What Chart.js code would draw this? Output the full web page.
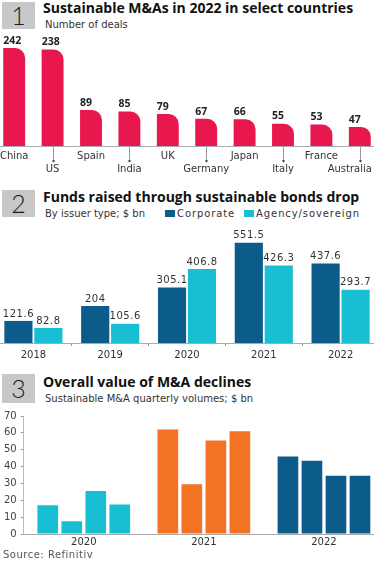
<!DOCTYPE html>
<html>
<head>
<meta charset="utf-8">
<script src="https://cdn.jsdelivr.net/npm/chart.js@4.4.1/dist/chart.umd.min.js"></script>
<style>
  html, body { margin: 0; padding: 0; background: #fff; }
  body { width: 374px; height: 561px; position: relative; overflow: hidden; font-family: "DejaVu Sans", sans-serif; color: #222; }
  .num { position: absolute; left: 2px; width: 33px; height: 27px; background: #c8c8ca; font: 300 25px/27px Lato, sans-serif; text-align: center; color: #1a1a1a; }
  .title { position: absolute; left: 43px; font-family: "Open Sans", sans-serif; font-weight: 700; font-size: 14px; line-height: 16px; color: #111; white-space: nowrap; }
  .sub { position: absolute; left: 45px; font-size: 10px; line-height: 12px; color: #333; white-space: nowrap; }
  .legend { position: absolute; top: 208px; left: 165px; font-size: 10px; line-height: 12px; letter-spacing: 0.9px; color: #333; white-space: nowrap; }
  .legend span { display: inline-block; width: 10px; height: 7px; margin-right: 2px; }
  .legend b { font-weight: 400; margin-right: 9px; }
  canvas { position: absolute; }
  .source { position: absolute; left: 3px; top: 549px; font-size: 10px; line-height: 12px; letter-spacing: 0.5px; color: #555; }
</style>
</head>
<body>
<div class="num" style="top:2px">1</div>
<div class="title" style="top:0px">Sustainable M&amp;As in 2022 in select countries</div>
<div class="sub" style="top:19px">Number of deals</div>
<canvas id="c1" width="384" height="148" style="left:-5px;top:32px"></canvas>

<div class="num" style="top:190px">2</div>
<div class="title" style="top:189px">Funds raised through sustainable bonds drop</div>
<div class="sub" style="top:208px">By issuer type; $ bn</div>
<div class="legend"><span style="background:#0b5b8b"></span><b>Corporate</b><span style="background:#18bed2"></span><b>Agency/sovereign</b></div>
<canvas id="c2" width="384" height="142" style="left:-5px;top:222px"></canvas>

<div class="num" style="top:374px;height:29px;line-height:29px">3</div>
<div class="title" style="top:374px">Overall value of M&amp;A declines</div>
<div class="sub" style="top:393px">Sustainable M&amp;A quarterly volumes; $ bn</div>
<canvas id="c3" width="384" height="144" style="left:0px;top:406px"></canvas>
<div class="source">Source: Refinitiv</div>

<script>
// chart 1: deals by country
const countries = ["China", "US", "Spain", "India", "UK", "Germany", "Japan", "Italy", "France", "Australia"];
const deals = [242, 238, 89, 85, 79, 67, 66, 55, 53, 47];

// chart 2: bonds by issuer type
const bondYears = ["2018", "2019", "2020", "2021", "2022"];
const corporate = [121.6, 204, 305.1, 551.5, 437.6];
const agency = [82.8, 105.6, 406.8, 426.3, 293.7];

// chart 3: quarterly M&A volumes
const maYears = ["2020", "2021", "2022"];
const q1 = [17, 62, 46];
const q2 = [7.5, 29.5, 43.5];
const q3 = [25.5, 55.5, 34.5];
const q4 = [17.5, 61, 34.5];
const maTicks = [0, 10, 20, 30, 40, 50, 60, 70];

const red = "#e8184f";
const navy = "#0b5b8b";
const cyan = "#18bed2";
const orange = "#f37325";

Chart.defaults.font.family = '"DejaVu Sans", sans-serif';
Chart.defaults.color = "#333";

const valueLabels = {
    id: "valueLabels",
    afterDatasetsDraw(chart, args, opts) {
        const ctx = chart.ctx;
        ctx.save();
        ctx.font = opts.font;
        ctx.fillStyle = opts.color;
        ctx.textBaseline = "bottom";
        ctx.textAlign = opts.align;
        if (opts.spacing) ctx.letterSpacing = opts.spacing;
        chart.data.datasets.forEach((ds, di) => {
            chart.getDatasetMeta(di).data.forEach((bar, i) => {
                const x = opts.align === "left" ? bar.x - bar.width / 2 : bar.x;
                ctx.fillText(String(ds.data[i]), x, bar.y - 2);
            });
        });
        ctx.restore();
    },
};

// leader ticks down to the staggered (lower row) labels
const leaderTicks = {
    id: "leaderTicks",
    afterDraw(chart) {
        const x = chart.scales.x;
        const ctx = chart.ctx;
        ctx.save();
        ctx.strokeStyle = "#999";
        ctx.fillStyle = "#444";
        ctx.lineWidth = 1;
        x.ticks.forEach((t, i) => {
            if (i % 2 === 0) return;
            const px = Math.round(x.getPixelForTick(i)) + 0.5;
            ctx.beginPath();
            ctx.moveTo(px, x.top + 1);
            ctx.lineTo(px, x.top + 15);
            ctx.stroke();
            ctx.beginPath();
            ctx.arc(px, x.top + 15, 1.2, 0, Math.PI * 2);
            ctx.fill();
        });
        ctx.restore();
    },
};

const base = {
    responsive: false,
    devicePixelRatio: 1,
    animation: false,
};

new Chart(document.getElementById("c1"), {
    type: "bar",
    data: {
        labels: countries,
        datasets: [
            {
                data: deals,
                backgroundColor: red,
                borderRadius: { topLeft: 0, topRight: 10, bottomLeft: 0, bottomRight: 0 },
                borderSkipped: "start",
                categoryPercentage: 1,
                barPercentage: 0.57,
            },
        ],
    },
    options: {
        ...base,
        layout: { padding: { top: 16 } },
        scales: {
            x: {
                // keep the plot full width; last label is nudged left instead
                afterFit: (s) => {
                    s.paddingLeft = 0;
                    s.paddingRight = 0;
                },
                grid: { drawOnChartArea: false, drawTicks: false },
                border: { color: "#aaa" },
                ticks: {
                    padding: 4,
                    autoSkip: false,
                    maxRotation: 0,
                    color: "#333",
                    font: { size: 10, lineHeight: 1.3 },
                    callback: (v, i) => {
                        const name = i === countries.length - 1 ? countries[i] + "\u2003\u2003" : countries[i];
                        return i % 2 ? ["", name] : name;
                    },
                },
            },
            y: { display: false, min: 0, max: 242 },
        },
        plugins: {
            legend: { display: false },
            tooltip: { enabled: false },
            valueLabels: { font: 'bold 10.5px "Open Sans"', color: "#222", align: "left" },
        },
    },
    plugins: [valueLabels, leaderTicks],
});

new Chart(document.getElementById("c2"), {
    type: "bar",
    data: {
        labels: bondYears,
        datasets: [
            { label: "Corporate", data: corporate, backgroundColor: navy, categoryPercentage: 0.78, barPercentage: 0.94 },
            { label: "Agency/sovereign", data: agency, backgroundColor: cyan, categoryPercentage: 0.78, barPercentage: 0.94 },
        ],
    },
    options: {
        ...base,
        layout: { padding: { top: 12 } },
        scales: {
            x: {
                grid: { offset: true, drawOnChartArea: false, tickLength: 3, tickColor: "#999" },
                border: { color: "#aaa" },
                ticks: { padding: 3, color: "#333", font: { size: 10 } },
            },
            y: { display: false, min: 0, max: 600 },
        },
        plugins: {
            legend: { display: false },
            tooltip: { enabled: false },
            valueLabels: { font: '10px "DejaVu Sans"', color: "#333", align: "center", spacing: "0.5px" },
        },
    },
    plugins: [valueLabels],
});

const yearColors = [cyan, orange, navy];

new Chart(document.getElementById("c3"), {
    type: "bar",
    data: {
        labels: maYears,
        datasets: [q1, q2, q3, q4].map((d, i) => ({
            label: "Q" + (i + 1),
            data: d,
            backgroundColor: yearColors,
            categoryPercentage: 0.8,
            barPercentage: 0.86,
        })),
    },
    options: {
        ...base,
        layout: { padding: { top: 8, left: 0 } },
        scales: {
            x: {
                grid: { display: false, drawTicks: false },
                border: { color: "#aaa" },
                ticks: { padding: 2, color: "#333", font: { size: 10 } },
            },
            y: {
                min: 0,
                max: 70,
                afterBuildTicks: (s) => {
                    s.ticks = maTicks.map((v) => ({ value: v }));
                },
                grid: { drawOnChartArea: false, tickLength: 3, tickColor: "#999" },
                border: { color: "#bbb" },
                ticks: { padding: 4, autoSkip: false, color: "#444", font: { size: 10 } },
            },
        },
        plugins: { legend: { display: false }, tooltip: { enabled: false } },
    },
});
</script>
</body>
</html>
